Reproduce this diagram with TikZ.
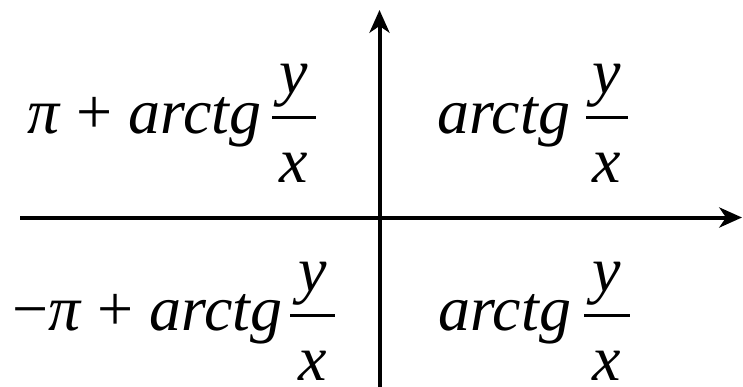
\documentclass[tikz,border=0pt]{standalone}
\usepackage{fontspec}
\setmainfont{Liberation Serif}
\usetikzlibrary{arrows.meta}
\tikzset{
  axis/.style={line width=3pt, -{Stealth[length=17pt,width=15pt,inset=5pt]}},
  bar/.style={line width=2.25pt},
  lbl/.style={inner sep=0pt, anchor=base west, font=\fontsize{48}{58}\selectfont},
  frc/.style={inner sep=0pt, anchor=base, font=\itshape\fontsize{48}{58}\selectfont}
}
\begin{document}
\begin{tikzpicture}[x=0.75pt,y=-0.75pt]
\useasboundingbox (0,0) rectangle (743,386);
\coordinate (xl) at (20,217.5);
\coordinate (xr) at (742,217.5);
\coordinate (yb) at (379.5,390);
\coordinate (yt) at (379.5,10);
\draw[axis] (xl) -- (xr);
\draw[axis] (yb) -- (yt);
% second quadrant
\node[lbl] (q2) at (27,133) {\textit{π} + \textit{arctg}};
\node[frc] (q2y) at (294,93) {y};
\node[frc] (q2x) at (294,182) {x};
\coordinate (q2a) at (272,117); \coordinate (q2b) at (316,117);
\draw[bar] (q2a) -- (q2b);
% first quadrant
\node[lbl] (q1) at (437,133) {\textit{arctg}};
\node[frc] (q1y) at (607,93) {y};
\node[frc] (q1x) at (607,182) {x};
\coordinate (q1a) at (586,117); \coordinate (q1b) at (628,117);
\draw[bar] (q1a) -- (q1b);
% third quadrant
\node[lbl] (q3) at (12,330) {−\textit{π} + \textit{arctg}};
\node[frc] (q3y) at (313,291) {y};
\node[frc] (q3x) at (313,380) {x};
\coordinate (q3a) at (290,315); \coordinate (q3b) at (335,315);
\draw[bar] (q3a) -- (q3b);
% fourth quadrant
\node[lbl] (q4) at (438,330) {\textit{arctg}};
\node[frc] (q4y) at (607,291) {y};
\node[frc] (q4x) at (607,380) {x};
\coordinate (q4a) at (584,315); \coordinate (q4b) at (630,315);
\draw[bar] (q4a) -- (q4b);
\end{tikzpicture}
\end{document}
